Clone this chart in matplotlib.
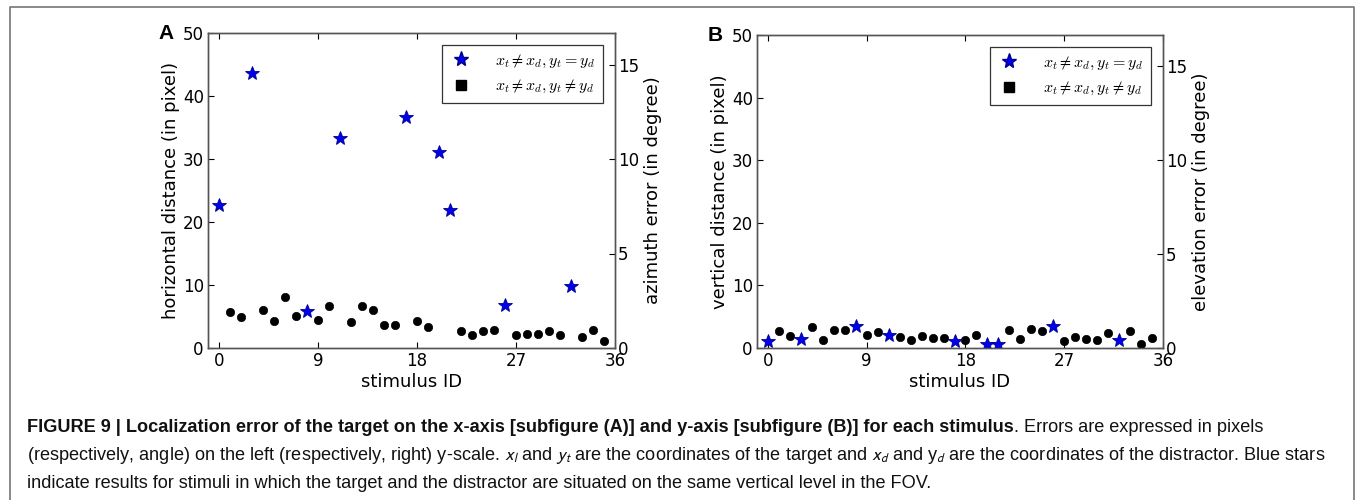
import matplotlib
matplotlib.use("Agg")
import matplotlib.pyplot as plt
from matplotlib.lines import Line2D
import numpy as np

# ---------------- data ----------------
stimulus_ids = list(range(36))
star_ids = [0, 3, 8, 11, 17, 20, 21, 26, 32]
horizontal_px = [22.75, 5.7, 4.9, 43.65, 6.1, 4.3, 8.1, 5.1, 5.8, 4.5, 6.6, 33.3,
                 4.2, 6.7, 6.1, 3.6, 3.6, 36.7, 4.3, 3.4, 31.1, 21.9, 2.75, 2.1,
                 2.65, 2.9, 6.8, 2.1, 2.3, 2.3, 2.65, 2.0, 9.8, 1.7, 2.9, 1.05]
vertical_px = [1.06, 2.66, 1.97, 1.44, 3.3, 1.33, 2.93, 2.93, 3.46, 2.13, 2.55, 2.02,
               1.76, 1.33, 1.97, 1.6, 1.6, 1.06, 1.22, 2.13, 0.69, 0.69, 2.8, 1.44,
               3.1, 2.66, 3.46, 1.17, 1.7, 1.5, 1.22, 2.4, 1.22, 2.66, 0.69, 1.6]
x_ticks = [0, 9, 18, 27, 36]
px_ticks = [0, 10, 20, 30, 40, 50]
deg_ticks = [0, 5, 10, 15]
px_per_degree = 3.0
legend_labels = [r"$x_t \neq x_d, y_t = y_d$", r"$x_t \neq x_d, y_t \neq y_d$"]

W, H = 1357, 500
fig = plt.figure(figsize=(W / 100, H / 100), dpi=100)

SPINE = "#555555"
TICK_FS = 12
LABEL_FS = 13


def panel(rect, values, letter, ylabel, y2label):
    l, r, t, b = rect
    ax = fig.add_axes([l / W, 1 - b / H, (r - l) / W, (b - t) / H])
    vals = np.array(values)
    ids = np.array(stimulus_ids)
    is_star = np.isin(ids, star_ids)
    ax.plot(ids[~is_star], vals[~is_star], 'o', color='black', ms=6.0, mec='black', mew=0.5,
            linestyle='none', zorder=3)
    ax.plot(ids[is_star], vals[is_star], '*', color='#0000ee', ms=10.5, mec='#00008b', mew=0.6,
            linestyle='none', zorder=4)
    ax.set_xlim(-1, 36)
    ax.set_ylim(0, 50)
    ax.set_xticks(x_ticks)
    ax.set_yticks(px_ticks)
    ax.tick_params(axis='both', direction='in', length=4, width=0.8, labelsize=TICK_FS,
                   colors='black', pad=3)
    ax.tick_params(axis='x', top=True)
    ax.tick_params(axis='y', left=True, right=False)
    for s in ax.spines.values():
        s.set_color(SPINE)
        s.set_linewidth(1.0)
    ax.set_xlabel("stimulus ID", fontsize=LABEL_FS, labelpad=2)
    ax.set_ylabel(ylabel, fontsize=LABEL_FS, labelpad=2)

    ax2 = ax.twinx()
    ax2.set_ylim(0, 50 / px_per_degree)
    ax2.set_yticks(deg_ticks)
    ax2.tick_params(axis='y', direction='in', length=4, width=0.8, labelsize=TICK_FS, pad=2)
    for s in ax2.spines.values():
        s.set_color(SPINE)
        s.set_linewidth(1.0)
    ax2.set_ylabel(y2label, fontsize=LABEL_FS, labelpad=4)

    handles = [Line2D([], [], marker='*', color='#0000ee', mec='#00008b', ms=11, linestyle='none'),
               Line2D([], [], marker='s', color='black', ms=6.5, linestyle='none')]
    leg = ax2.legend(handles, legend_labels, loc='upper right', numpoints=1,
                     prop={'size': 11.5, 'math_fontfamily': 'cm'},
                     fancybox=False, framealpha=1, edgecolor='#333333',
                     borderaxespad=0.75, handletextpad=1.4, borderpad=0.5,
                     labelspacing=0.5, handlelength=1.4)
    leg.get_frame().set_linewidth(0.9)

    fig.text((l - 42) / W, 1 - t / H, letter, fontsize=15, fontweight='bold',
             family=['Liberation Sans', 'DejaVu Sans'], ha='center', va='center')
    return ax, ax2


panel((208, 615, 33, 348), horizontal_px, "A",
      "horizontal distance (in pixel)", "azimuth error (in degree)")
panel((757, 1163, 35, 348), vertical_px, "B",
      "vertical distance (in pixel)", "elevation error (in degree)")

# ---------------- border ----------------
bx0, bx1, by0 = 10 / W, 1354 / W, 1 - 7 / H
fig.add_artist(Line2D([bx0, bx0, bx1, bx1], [0, by0, by0, 0], transform=fig.transFigure,
                      color='#808080', lw=1.3))

# ---------------- caption ----------------
CAP_FONT = ['Liberation Sans', 'DejaVu Sans']
CAP_SIZE = 13.05
cx = 27 / W
renderer = fig.canvas.get_renderer()
t1 = fig.text(cx, 1 - 428 / H,
              "FIGURE 9 | Localization error of the target on the x-axis [subfigure (A)] and "
              "y-axis [subfigure (B)] for each stimulus",
              fontsize=CAP_SIZE, fontweight='bold', family=CAP_FONT, va='center', color='#111111')
bb = t1.get_window_extent(renderer=renderer)
fig.text(bb.x1 / W, 1 - 428 / H, ". Errors are expressed in pixels",
         fontsize=CAP_SIZE, family=CAP_FONT, va='center', color='#111111')
fig.text(cx, 1 - 456 / H,
         r"(respectively, angle) on the left (respectively, right) y-scale. $x_l$ and $y_t$ are "
         r"the coordinates of the target and $x_d$ and y$_d$ are the coordinates of the "
         r"distractor. Blue stars",
         fontsize=CAP_SIZE, family=CAP_FONT, va='center', color='#111111',
         math_fontfamily='stixsans')
fig.text(cx, 1 - 484 / H,
         "indicate results for stimuli in which the target and the distractor are situated "
         "on the same vertical level in the FOV.",
         fontsize=CAP_SIZE, family=CAP_FONT, va='center', color='#111111')

fig.savefig("out.png", dpi=100)
